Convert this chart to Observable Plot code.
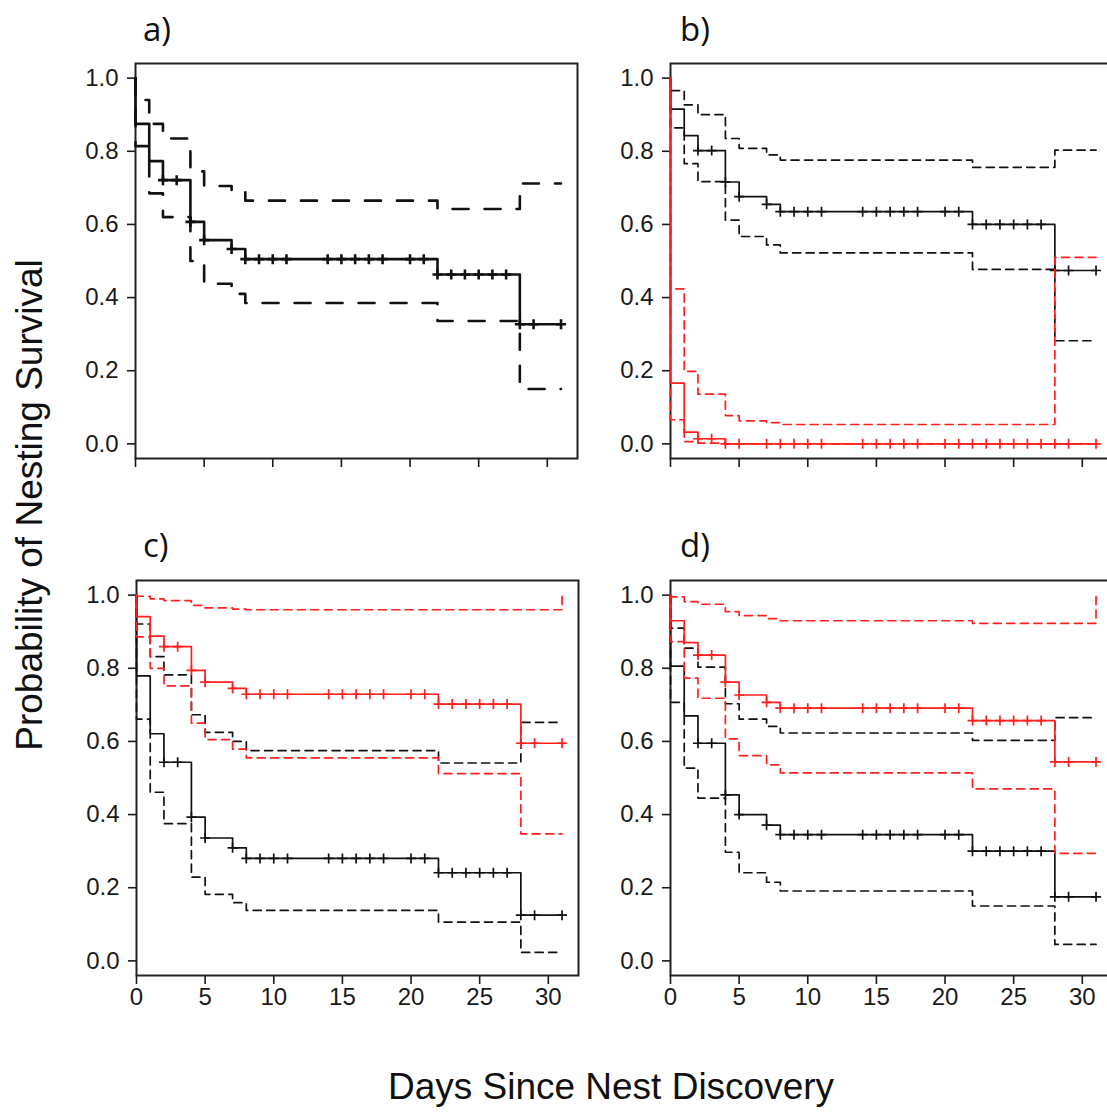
<!DOCTYPE html>
<html>
<head>
<meta charset="utf-8">
<script src="https://cdn.jsdelivr.net/npm/d3@7"></script>
<script src="https://cdn.jsdelivr.net/npm/@observablehq/plot@0.6"></script>
<style>
  html, body { margin: 0; padding: 0; background: #fff; overflow: hidden; }
  #fig { position: relative; width: 1107px; height: 1112px; overflow: hidden; background: #fff; }
  .panel { position: absolute; width: 600px; height: 520px; }
  .panel svg { max-width: none !important; display: block; }
  .lab { position: absolute; font-family: "Open Sans", sans-serif; font-size: 33px; line-height: 1; color: #111; white-space: nowrap; }
  .title { position: absolute; font-family: "Liberation Sans", Arial, sans-serif; font-size: 37px; line-height: 1; color: #111; white-space: nowrap; }
</style>
</head>
<body>
<div id="fig"></div>
<script>
// ---------- data ----------
// step times (event days); the first two points give the drop at day 0
const days = [0, 0, 1, 2, 4, 5, 7, 8, 22, 28, 31];
// censoring times (the "+" marks)
const censorDays = [2, 3, 4, 5, 7, 8, 9, 10, 11, 14, 15, 16, 17, 18, 20, 21, 22, 23, 24, 25, 26, 27, 28, 29, 31];
const xTicks = [0, 5, 10, 15, 20, 25, 30];
const yTicks = [0, 0.2, 0.4, 0.6, 0.8, 1.0];
const panelLabels = ["a)", "b)", "c)", "d)"];
const xTitle = "Days Since Nest Discovery";
const yTitle = "Probability of Nesting Survival";

// panel a (all nests)
const aSurv  = [1, 0.875, 0.773, 0.721, 0.607, 0.557, 0.533, 0.505, 0.463, 0.327, 0.327];
const aUpper = [1, 0.940, 0.875, 0.835, 0.745, 0.705, 0.690, 0.665, 0.642, 0.712, 0.712];
const aLower = [1, 0.814, 0.685, 0.620, 0.500, 0.438, 0.410, 0.385, 0.336, 0.150, 0.150];

// panel b
const bBlackSurv  = [1, 0.915, 0.843, 0.802, 0.716, 0.676, 0.655, 0.635, 0.600, 0.474, 0.474];
const bBlackUpper = [1, 0.966, 0.927, 0.900, 0.835, 0.808, 0.790, 0.776, 0.756, 0.803, 0.803];
const bBlackLower = [1, 0.864, 0.766, 0.717, 0.612, 0.567, 0.544, 0.522, 0.477, 0.282, 0.282];
const bRedSurv    = [1, 0.166, 0.032, 0.014, 0, 0, 0, 0, 0, 0, 0];
const bRedUpper   = [1, 0.424, 0.198, 0.136, 0.077, 0.063, 0.058, 0.053, 0.053, 0.510, 0.510];
const bRedLower   = [1, 0.066, 0.006, 0.002, 0, 0, 0, 0, 0, 0, 0];

// panel c
const cBlackSurv  = [1, 0.779, 0.621, 0.543, 0.393, 0.336, 0.309, 0.280, 0.241, 0.125, 0.125];
const cBlackUpper = [1, 0.921, 0.832, 0.782, 0.673, 0.625, 0.600, 0.575, 0.541, 0.652, 0.652];
const cBlackLower = [1, 0.661, 0.461, 0.375, 0.229, 0.182, 0.159, 0.138, 0.106, 0.023, 0.023];
const cRedSurv    = [1, 0.941, 0.888, 0.859, 0.794, 0.762, 0.745, 0.729, 0.702, 0.595, 0.595];
const cRedUpper   = [1, 0.997, 0.990, 0.985, 0.972, 0.965, 0.962, 0.960, 0.960, 0.960, 1.0];
const cRedLower   = [1, 0.886, 0.800, 0.752, 0.650, 0.605, 0.579, 0.555, 0.512, 0.347, 0.347];

// panel d
const dBlackSurv  = [1, 0.806, 0.670, 0.595, 0.454, 0.400, 0.371, 0.345, 0.300, 0.175, 0.175];
const dBlackUpper = [1, 0.910, 0.855, 0.803, 0.703, 0.661, 0.641, 0.623, 0.603, 0.665, 0.665];
const dBlackLower = [1, 0.707, 0.527, 0.445, 0.297, 0.241, 0.215, 0.191, 0.150, 0.045, 0.045];
const dRedSurv    = [1, 0.930, 0.870, 0.836, 0.762, 0.727, 0.707, 0.691, 0.657, 0.544, 0.544];
const dRedUpper   = [1, 0.995, 0.982, 0.975, 0.955, 0.944, 0.936, 0.930, 0.923, 0.923, 1.0];
const dRedLower   = [1, 0.873, 0.773, 0.718, 0.607, 0.561, 0.536, 0.514, 0.470, 0.294, 0.294];

// ---------- drawing ----------
const BLACK = "#111";
const RED = "#ff1f1f";

const plusSymbol = {
  draw(ctx, size) {
    const r = Math.sqrt(size / Math.PI);
    ctx.moveTo(-r, 0); ctx.lineTo(r, 0);
    ctx.moveTo(0, -r); ctx.lineTo(0, r);
  }
};

function stepAt(vals, t) {
  const i = d3.bisectRight(days, t) - 1;
  return vals[Math.max(0, i)];
}

function curveMarks(surv, upper, lower, color, sw, dash) {
  return [
    Plot.line(upper, {x: days, y: d => d, curve: "step-after", stroke: color, strokeWidth: sw, strokeDasharray: dash}),
    Plot.line(lower, {x: days, y: d => d, curve: "step-after", stroke: color, strokeWidth: sw, strokeDasharray: dash}),
    Plot.line(surv, {x: days, y: d => d, curve: "step-after", stroke: color, strokeWidth: sw}),
    Plot.dot(censorDays, {x: t => t, y: t => stepAt(surv, t), symbol: plusSymbol, r: 5, stroke: color, fill: "none", strokeWidth: sw})
  ];
}

function panel(groups, showXLabels, sw, dash) {
  return Plot.plot({
    width: 600,
    height: 520,
    marginLeft: 135,
    marginTop: 63,
    marginRight: 23,
    marginBottom: 62,
    x: {domain: [0, 32.2]},
    y: {domain: [-0.04, 1.04]},
    style: {fontFamily: "'Liberation Sans', Arial, sans-serif", fontSize: "24px", color: "#1a1a1a", background: "transparent", overflow: "visible"},
    marks: [
      Plot.frame({stroke: "#222", strokeWidth: 2}),
      Plot.axisY({ticks: yTicks, tickFormat: d3.format(".1f"), tickSize: 8, tickPadding: 9, label: null, strokeWidth: 1.6}),
      Plot.axisX({ticks: xTicks, tickFormat: showXLabels ? d3.format("d") : () => "", tickSize: 9, tickPadding: 3, label: null, strokeWidth: 1.6}),
      ...groups.flatMap(g => curveMarks(g[0], g[1], g[2], g[3], sw, dash))
    ]
  });
}

const fig = document.getElementById("fig");

function place(node, left, top) {
  const wrap = document.createElement("div");
  wrap.className = "panel";
  wrap.style.left = left + "px";
  wrap.style.top = top + "px";
  wrap.appendChild(node);
  fig.appendChild(wrap);
}

place(panel([[aSurv, aUpper, aLower, BLACK]], false, 2.6, "16,16"), 0, 0);
place(panel([[bBlackSurv, bBlackUpper, bBlackLower, BLACK], [bRedSurv, bRedUpper, bRedLower, RED]], false, 1.7, "8,5.5"), 535, 0);
place(panel([[cBlackSurv, cBlackUpper, cBlackLower, BLACK], [cRedSurv, cRedUpper, cRedLower, RED]], true, 1.7, "8,5.5"), 1, 517);
place(panel([[dBlackSurv, dBlackUpper, dBlackLower, BLACK], [dRedSurv, dRedUpper, dRedLower, RED]], true, 1.7, "8,5.5"), 535, 517);

// panel letters
const labPos = [[143, 12], [680, 12], [143, 528], [680, 528]];
panelLabels.forEach((t, i) => {
  const el = document.createElement("div");
  el.className = "lab";
  el.textContent = t;
  el.style.left = labPos[i][0] + "px";
  el.style.top = labPos[i][1] + "px";
  fig.appendChild(el);
});

// axis titles
const xt = document.createElement("div");
xt.className = "title";
xt.textContent = xTitle;
xt.style.left = "611px";
xt.style.top = "1068px";
xt.style.transform = "translateX(-50%)";
fig.appendChild(xt);

const yt = document.createElement("div");
yt.className = "title";
yt.textContent = yTitle;
yt.style.left = "29px";
yt.style.top = "505px";
yt.style.transform = "translate(-50%, -50%) rotate(-90deg)";
fig.appendChild(yt);
</script>
</body>
</html>
